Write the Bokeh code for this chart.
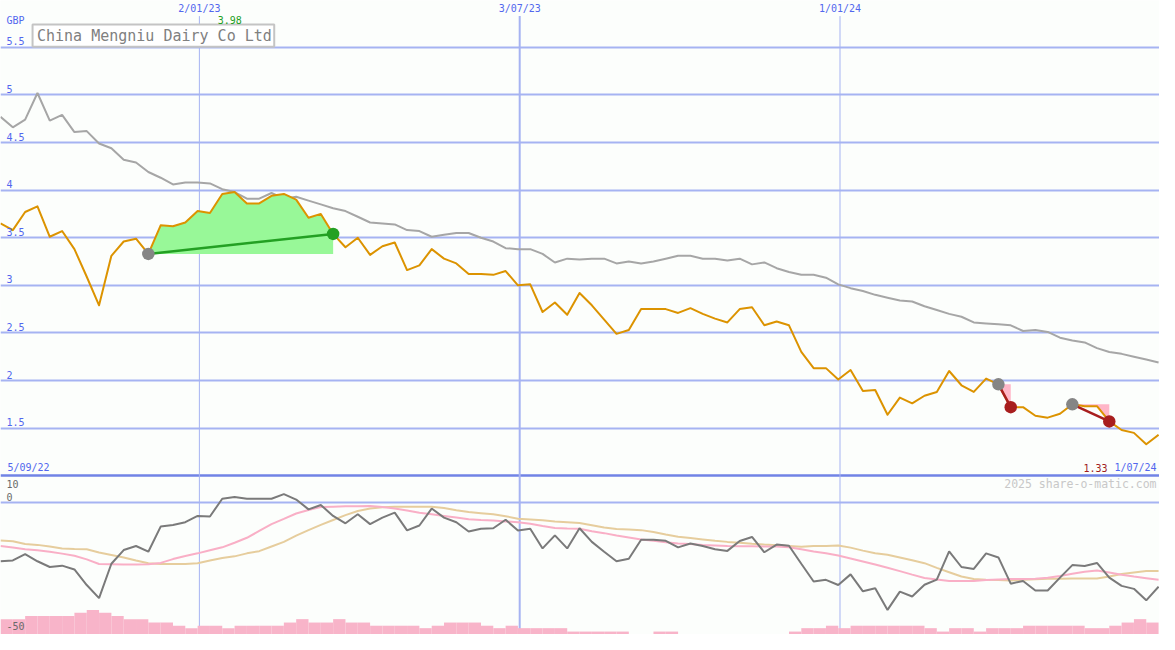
import datetime as dt
from bokeh.plotting import figure
from bokeh.models import Range1d
from bokeh.core.properties import value
from bokeh.embed import file_html
from bokeh.resources import INLINE

# ---------------- data (weekly) ----------------
first_date = dt.datetime(2022, 9, 11)
period_labels = ["5/09/22", "1/07/24"]
marker_dates = [dt.datetime(2023, 1, 2), dt.datetime(2023, 7, 3), dt.datetime(2024, 1, 1)]
company = "China Mengniu Dairy Co Ltd"
currency = "GBP"
price_ticks = [1.5, 2, 2.5, 3, 3.5, 4, 4.5, 5, 5.5]
osc_ticks = ["10", "0", "-50"]

price = [3.65, 3.58, 3.77, 3.83, 3.51, 3.57, 3.38, 3.09, 2.79, 3.31,
         3.46, 3.49, 3.33, 3.63, 3.62, 3.66, 3.78, 3.76, 3.96, 3.98,
         3.86, 3.86, 3.94, 3.96, 3.90, 3.71, 3.75, 3.54, 3.40, 3.50,
         3.32, 3.41, 3.45, 3.16, 3.21, 3.38, 3.28, 3.23, 3.12, 3.12,
         3.11, 3.15, 3.00, 3.01, 2.72, 2.82, 2.69, 2.92, 2.79, 2.64,
         2.49, 2.53, 2.75, 2.75, 2.75, 2.71, 2.76, 2.70, 2.65, 2.61,
         2.75, 2.77, 2.58, 2.62, 2.58, 2.30, 2.13, 2.13, 2.01, 2.11,
         1.89, 1.90, 1.64, 1.82, 1.76, 1.84, 1.88, 2.10, 1.95, 1.88,
         2.02, 1.96, 1.72, 1.72, 1.63, 1.61, 1.65, 1.75, 1.73, 1.73,
         1.57, 1.48, 1.45, 1.33, 1.43]

moving_avg = [4.77, 4.66, 4.74, 5.02, 4.73, 4.79, 4.61, 4.62, 4.49, 4.44,
              4.32, 4.29, 4.19, 4.13, 4.06, 4.08, 4.08, 4.07, 4.01, 3.98,
              3.91, 3.91, 3.97, 3.91, 3.93, 3.89, 3.85, 3.81, 3.78, 3.72,
              3.66, 3.65, 3.64, 3.58, 3.57, 3.51, 3.53, 3.55, 3.55, 3.50,
              3.46, 3.39, 3.38, 3.38, 3.33, 3.24, 3.28, 3.27, 3.28, 3.28,
              3.23, 3.25, 3.23, 3.25, 3.28, 3.31, 3.31, 3.28, 3.28, 3.26,
              3.28, 3.22, 3.24, 3.18, 3.14, 3.11, 3.11, 3.08, 3.01, 2.97,
              2.94, 2.90, 2.87, 2.84, 2.83, 2.78, 2.74, 2.70, 2.67, 2.61,
              2.60, 2.59, 2.58, 2.52, 2.53, 2.51, 2.45, 2.42, 2.40, 2.34,
              2.30, 2.28, 2.25, 2.22, 2.19]

osc = [-21.4, -21.1, -18.8, -21.4, -23.5, -23.0, -24.4, -30.1, -34.9, -22.3,
       -17.3, -15.8, -17.9, -8.7, -8.1, -7.1, -4.8, -5.0, 1.5, 2.1,
       1.5, 1.5, 1.5, 3.2, 1.2, -2.4, -0.8, -4.8, -7.5, -4.2,
       -7.8, -5.4, -3.6, -10.1, -8.3, -2.1, -5.4, -7.1, -10.5, -9.5,
       -9.3, -6.2, -10.1, -9.5, -16.7, -11.9, -16.7, -9.3, -14.3, -17.9,
       -21.4, -20.5, -13.5, -13.5, -13.9, -16.3, -14.9, -15.8, -17.0, -17.6,
       -14.0, -12.5, -18.1, -15.3, -15.7, -22.3, -28.8, -28.2, -30.1, -26.2,
       -32.4, -31.3, -39.2, -32.5, -34.3, -30.0, -28.1, -17.8, -23.5, -24.2,
       -18.5, -20.0, -29.6, -28.6, -32.1, -32.1, -27.4, -22.8, -23.1, -22.0,
       -27.4, -30.4, -31.5, -35.7, -30.7]

osc_fast = [-15.8, -16.4, -17.0, -17.4, -17.9, -18.6, -19.4, -20.7, -22.4, -22.5,
            -22.6, -22.6, -22.5, -22.0, -20.6, -19.5, -18.5, -17.4, -16.3, -14.6,
            -12.8, -10.3, -7.8, -5.9, -3.9, -2.6, -1.5, -1.4, -1.3, -1.3,
            -1.2, -1.5, -2.1, -2.8, -3.6, -4.2, -4.8, -5.4, -6.0, -6.3,
            -6.5, -6.8, -7.1, -7.7, -8.5, -9.2, -9.4, -9.5, -10.4, -11.1,
            -12.0, -12.7, -13.4, -13.9, -14.4, -14.9, -15.1, -15.4, -15.6, -15.8,
            -15.9, -15.9, -16.0, -16.0, -16.3, -17.0, -17.8, -18.5, -19.3, -20.4,
            -21.5, -22.6, -23.8, -25.0, -26.3, -27.5, -28.1, -28.6, -28.6, -28.6,
            -28.3, -28.1, -27.9, -27.9, -27.8, -27.4, -26.8, -26.0, -25.2, -24.8,
            -25.5, -26.3, -27.0, -27.6, -28.2]

osc_slow = [-13.8, -14.1, -15.1, -15.4, -16.0, -16.7, -16.9, -17.0, -18.2, -19.1,
            -20.0, -21.1, -22.1, -22.4, -22.4, -22.4, -22.1, -21.1, -20.2, -19.6,
            -18.5, -17.7, -16.0, -14.3, -12.0, -10.0, -8.1, -6.3, -4.5, -3.0,
            -2.1, -1.6, -1.4, -1.4, -1.4, -1.4, -1.9, -2.7, -3.4, -3.8,
            -4.2, -4.9, -5.8, -6.1, -6.4, -6.8, -7.1, -7.4, -8.2, -9.0,
            -9.6, -9.8, -10.0, -10.7, -11.6, -12.4, -12.9, -13.4, -13.9, -14.3,
            -14.6, -15.0, -15.3, -15.5, -15.8, -16.1, -15.8, -15.8, -15.6, -16.4,
            -17.5, -18.5, -19.0, -20.0, -21.0, -22.1, -23.8, -25.4, -27.0, -27.9,
            -28.2, -28.3, -28.4, -28.2, -28.0, -27.8, -27.8, -27.7, -27.7, -27.7,
            -27.0, -26.1, -25.5, -25.0, -25.0]

volume = [6.3, 6.3, 7.6, 7.6, 7.6, 7.6, 8.9, 10.0, 8.9, 7.6,
          6.3, 6.3, 4.9, 4.9, 3.6, 2.6, 3.6, 3.6, 2.6, 3.6,
          3.6, 3.6, 3.6, 4.9, 6.3, 4.9, 4.9, 6.3, 4.9, 4.9,
          3.6, 3.6, 3.6, 3.6, 2.6, 3.6, 4.9, 4.9, 4.9, 3.6,
          2.6, 3.6, 2.6, 2.6, 2.6, 2.6, 1.2, 1.2, 1.2, 1.2,
          1.2, 0.0, 0.0, 1.2, 1.2, 0.0, 0.0, 0.0, 0.0, 0.0,
          0.0, 0.0, 0.0, 0.0, 1.2, 2.6, 2.6, 3.6, 2.6, 3.6,
          3.6, 3.6, 3.6, 3.6, 3.6, 2.6, 1.2, 2.6, 2.6, 1.2,
          2.6, 2.6, 2.6, 3.6, 3.6, 3.6, 3.6, 3.6, 2.6, 2.6,
          3.6, 4.9, 6.3, 4.9]

trade_entry = [12, 81, 87]
trade_exit = [27, 82, 90]

# ---------------- layout helpers (reference pixels -> data) ----------------
PX_WEEK = 12.49
PX_UNIT = 97.6
OSC_ZERO_PX, OSC_PX = 515, 2.8
VOL_PX = 2.5
REF_W, REF_H = 1175, 650


def xd(px):
    return first_date + dt.timedelta(weeks=px / PX_WEEK)


def yv(py):
    return 5.5 - (py - 48) / PX_UNIT


def ypx(v):
    return 48 + (5.5 - v) * PX_UNIT


dates = [first_date + dt.timedelta(weeks=i) for i in range(len(price))]
bar_dates = [d + dt.timedelta(days=3.5) for d in dates[:len(volume)]]

BG = "#fcfefc"
GRID = "#a6b3f2"
DARK = "#7183e6"
BLUE = "#5267ee"
ORANGE = "#dc9300"
MONO = value("DejaVu Sans Mono")

p = figure(width=1159, height=634, output_backend="svg", toolbar_location=None,
           x_range=Range1d(xd(0), xd(REF_W)), y_range=Range1d(yv(REF_H), yv(0)),
           x_axis_location=None, y_axis_location=None,
           background_fill_color=BG, border_fill_color=BG, outline_line_color=None,
           min_border=0)
p.min_border_left = p.min_border_right = p.min_border_top = p.min_border_bottom = 0
p.grid.visible = False
p.extra_y_ranges = {
    "osc": Range1d(-(REF_H - OSC_ZERO_PX) / OSC_PX, OSC_ZERO_PX / OSC_PX),
    "vol": Range1d(0, REF_H / VOL_PX),
}

# grid lines
p.hspan(y=price_ticks, line_color=GRID, line_width=2)
p.hspan(y=[0], line_color=GRID, line_width=2, y_range_name="osc")
p.hspan(y=[10], line_color=DARK, line_width=2.5, y_range_name="osc")
p.segment(x0=marker_dates, x1=marker_dates, y0=[yv(REF_H)] * 3, y1=[yv(16)] * 3,
          line_color=GRID, line_width=[1, 2, 1])

# volume bars
p.vbar(x=bar_dates, top=volume, bottom=0, width=7 * 86400000, fill_color="#f8b4c9",
       line_color=None, y_range_name="vol")

# oscillator lines
p.line(dates, osc_slow, line_color="#e6cd9d", line_width=2, y_range_name="osc")
p.line(dates, osc_fast, line_color="#f9afc6", line_width=2, y_range_name="osc")
p.line(dates, osc, line_color="#7a7a7a", line_width=2, y_range_name="osc")

# moving average
p.line(dates, moving_avg, line_color="#a6a6a6", line_width=2)

# trade fills
for a, b in zip(trade_entry, trade_exit):
    gain = price[b] >= price[a]
    p.varea(x=dates[a:b + 1], y1=[price[a]] * (b - a + 1), y2=price[a:b + 1],
            fill_color="#98f898" if gain else "#ffb6c8")

# price line
p.line(dates, price, line_color=ORANGE, line_width=2, line_join="round")

# trade lines and dots
for a, b in zip(trade_entry, trade_exit):
    gain = price[b] >= price[a]
    col = "#23a023" if gain else "#a81e1e"
    p.line([dates[a], dates[b]], [price[a], price[b]], line_color=col, line_width=2.5)
    p.scatter([dates[a]], [price[a]], size=12.5, fill_color="#858585", line_color=None)
    p.scatter([dates[b]], [price[b]], size=12.5, fill_color=col, line_color=None)

# ---------------- texts ----------------
def lbl(xs, ys, texts, color, size="10px", align="left"):
    p.text(x=xs, y=ys, text=texts, text_font=MONO, text_font_size=size,
           text_color=color, text_align=align, text_baseline="middle")

# title box
p.quad(left=[xd(32.5)], right=[xd(277.5)], bottom=[yv(47.5)], top=[yv(24.5)],
       fill_color="white", line_color="#c4c4c4", line_width=2)
lbl([xd(37)], [yv(36)], [company], "#808080", size="15px")

# price tick labels
lbl([xd(6)] * len(price_ticks), [yv(ypx(v) - 6) for v in price_ticks],
    [f"{v:g}" for v in price_ticks], BLUE)
lbl([xd(6)], [yv(20)], [currency], BLUE)

# date labels on top
lbl(marker_dates, [yv(8)] * 3,
    [f"{d.day}/{d.month:02d}/{d.year % 100}" for d in marker_dates], BLUE, align="center")

# max label
lbl([xd(232.5)], [yv(19.5)], [f"{max(price):.2f}"], "#23a023", align="center")

# period labels
lbl([xd(7)], [yv(479)], [period_labels[0]], BLUE)
lbl([xd(1172)], [yv(479)], [period_labels[1]], BLUE, align="right")
lbl([xd(1098)], [yv(479)], [f"{min(price):.2f}"], "#a01c1c")
lbl([xd(1172)], [yv(496)], ["2025 share-o-matic.com"], "#c8c8c8", size="11.5px", align="right")

# oscillator labels
lbl([xd(6)] * 3, [yv(496), yv(509), yv(641)], osc_ticks, "#6a6a6a")

open("out.html", "w").write(file_html(p, INLINE))
